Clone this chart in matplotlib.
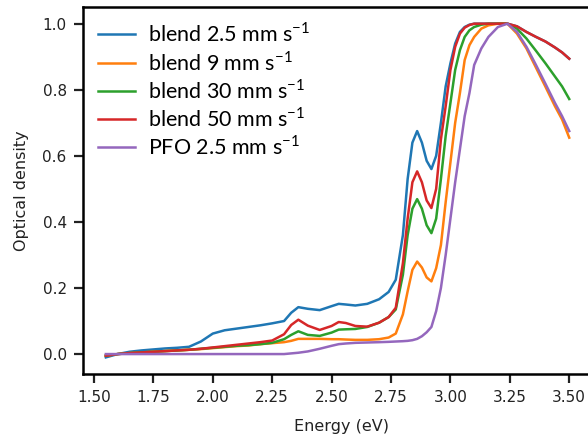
import matplotlib
matplotlib.use("Agg")
import matplotlib.pyplot as plt

# Energy grid (eV), shared by all spectra
energy = [1.55, 1.60, 1.65, 1.70, 1.75, 1.80, 1.85, 1.90, 1.95, 2.00,
          2.05, 2.10, 2.15, 2.20, 2.25, 2.30, 2.33, 2.36, 2.40, 2.45,
          2.50, 2.53, 2.56, 2.60, 2.65, 2.70, 2.74, 2.77, 2.80, 2.82,
          2.84, 2.86, 2.88, 2.90, 2.92, 2.94, 2.96, 2.98, 3.00, 3.02,
          3.04, 3.06, 3.08, 3.10, 3.13, 3.16, 3.20, 3.24, 3.28, 3.32,
          3.36, 3.40, 3.44, 3.47, 3.50]

# Optical density for each film
blend_2p5 = [-0.010, 0.000, 0.007, 0.011, 0.014, 0.017, 0.019, 0.022, 0.038, 0.062,
             0.072, 0.077, 0.082, 0.087, 0.093, 0.100, 0.125, 0.142, 0.137, 0.133,
             0.145, 0.152, 0.150, 0.147, 0.152, 0.166, 0.188, 0.225, 0.360, 0.530,
             0.640, 0.675, 0.640, 0.585, 0.560, 0.600, 0.700, 0.810, 0.880, 0.940,
             0.975, 0.990, 0.997, 1.000, 1.000, 1.000, 1.000, 1.000, 0.992, 0.975,
             0.960, 0.946, 0.928, 0.913, 0.894]
blend_9 = [-0.005, 0.000, 0.003, 0.005, 0.007, 0.009, 0.011, 0.013, 0.015, 0.018,
           0.021, 0.024, 0.026, 0.030, 0.033, 0.036, 0.040, 0.046, 0.046, 0.046,
           0.045, 0.045, 0.044, 0.043, 0.043, 0.045, 0.050, 0.062, 0.120, 0.190,
           0.255, 0.280, 0.262, 0.232, 0.220, 0.260, 0.330, 0.460, 0.580, 0.700,
           0.790, 0.890, 0.935, 0.960, 0.985, 0.995, 1.000, 1.000, 0.970, 0.925,
           0.867, 0.809, 0.750, 0.710, 0.655]
blend_30 = [-0.005, 0.000, 0.003, 0.005, 0.007, 0.009, 0.011, 0.013, 0.016, 0.019,
            0.022, 0.025, 0.027, 0.030, 0.034, 0.045, 0.058, 0.069, 0.058, 0.055,
            0.065, 0.074, 0.075, 0.076, 0.082, 0.095, 0.112, 0.135, 0.240, 0.360,
            0.440, 0.469, 0.440, 0.390, 0.366, 0.410, 0.530, 0.660, 0.760, 0.860,
            0.920, 0.960, 0.980, 0.990, 0.997, 1.000, 1.000, 1.000, 0.985, 0.955,
            0.918, 0.880, 0.840, 0.810, 0.772]
blend_50 = [-0.005, 0.000, 0.003, 0.005, 0.007, 0.009, 0.011, 0.013, 0.016, 0.020,
            0.024, 0.028, 0.032, 0.036, 0.041, 0.060, 0.088, 0.104, 0.086, 0.073,
            0.085, 0.097, 0.094, 0.085, 0.083, 0.095, 0.112, 0.140, 0.275, 0.410,
            0.520, 0.553, 0.520, 0.465, 0.442, 0.500, 0.650, 0.750, 0.860, 0.930,
            0.970, 0.988, 0.996, 1.000, 1.000, 1.000, 1.000, 1.000, 0.992, 0.975,
            0.960, 0.946, 0.928, 0.913, 0.894]
pfo_2p5 = [0.000, 0.000, 0.000, 0.000, 0.000, 0.000, 0.000, 0.000, 0.000, 0.000,
           0.000, 0.000, 0.000, 0.000, 0.000, 0.000, 0.002, 0.004, 0.008, 0.016,
           0.025, 0.030, 0.032, 0.034, 0.035, 0.036, 0.037, 0.038, 0.039, 0.040,
           0.042, 0.046, 0.054, 0.066, 0.082, 0.130, 0.200, 0.300, 0.410, 0.520,
           0.620, 0.720, 0.790, 0.875, 0.925, 0.960, 0.990, 1.000, 0.975, 0.930,
           0.875, 0.818, 0.760, 0.720, 0.675]

series = [blend_2p5, blend_9, blend_30, blend_50, pfo_2p5]
sup = "$^{\\mathregular{-1}}$"
labels = ["blend 2.5 mm s" + sup, "blend 9 mm s" + sup, "blend 30 mm s" + sup,
          "blend 50 mm s" + sup, "PFO 2.5 mm s" + sup]
colors = ["#1f77b4", "#ff7f0e", "#2ca02c", "#d62728", "#9467bd"]

fig = plt.figure(figsize=(5.88, 4.38), dpi=100)
# axes run past the right edge, as in the cropped original
ax = fig.add_axes([0.1406, 0.146, 0.88, 0.838])

for y, lab, c in zip(series, labels, colors):
    ax.plot(energy, y, color=c, lw=1.8, label=lab)

ax.set_xlim(1.4525, 1.4525 + 2.1455 * 0.88 / 0.8671)
ax.set_ylim(-0.0605, 1.0505)
ax.set_xticks([1.50, 1.75, 2.00, 2.25, 2.50, 2.75, 3.00, 3.25, 3.50])
ax.set_yticks([0.0, 0.2, 0.4, 0.6, 0.8, 1.0])
ax.tick_params(labelsize=11, width=1.6, length=6.5, pad=5, colors="#222222")
for s in ax.spines.values():
    s.set_linewidth(1.8)
ax.set_xlabel("Energy (eV)", fontsize=11.5, color="#222222", labelpad=10)
ax.set_ylabel("Optical density", fontsize=11.5, color="#222222", labelpad=10)

leg = ax.legend(loc="upper left", frameon=False, prop={"family": "Lato", "size": 15.5},
                handlelength=1.75, handletextpad=0.6, labelspacing=0.2,
                borderaxespad=0.3, borderpad=0.4)

fig.savefig("out.png", dpi=100)
